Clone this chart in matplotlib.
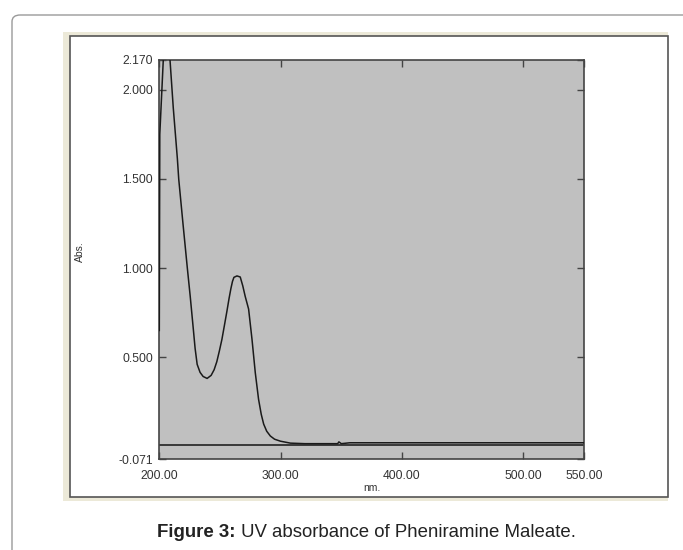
import matplotlib
matplotlib.use("Agg")
import matplotlib.pyplot as plt
from matplotlib.patches import Rectangle, FancyBboxPatch

plt.rcParams['font.family'] = ['Liberation Sans', 'DejaVu Sans']

# ---- data ----
wavelength_nm = [200.0, 200.4, 203.3, 205.0, 207.0, 208.8, 211.5, 214.9, 216.0, 219.5,
                 223.1, 225.5, 228.0, 229.5, 231.2, 233.6, 236.1, 239.4, 242.7, 245.2,
                 247.4, 249.5, 251.6, 253.7, 255.7, 257.5, 259.0, 260.3, 261.5, 264.0,
                 266.7, 268.8, 270.8, 273.6, 276.4, 279.1, 281.8, 284.0, 286.0, 288.5,
                 291.5, 295.0, 299.8, 308.0, 320.0, 347.0, 348.0, 350.0, 357.0, 400.0,
                 500.0, 550.0]
absorbance = [0.65, 1.75, 2.17, 2.40, 2.35, 2.17, 1.90, 1.613, 1.50, 1.25,
              1.00, 0.84, 0.66, 0.55, 0.46, 0.415, 0.392, 0.381, 0.398, 0.43,
              0.475, 0.535, 0.60, 0.68, 0.757, 0.83, 0.885, 0.925, 0.948, 0.956,
              0.95, 0.90, 0.841, 0.77, 0.60, 0.413, 0.264, 0.18, 0.125, 0.085,
              0.058, 0.04, 0.029, 0.018, 0.015, 0.015, 0.025, 0.015, 0.02, 0.02,
              0.02, 0.02]
baseline_value = 0.005

x_ticks = [200, 300, 400, 500, 550]
x_tick_labels = ["200.00", "300.00", "400.00", "500.00", "550.00"]
y_ticks = [-0.071, 0.5, 1.0, 1.5, 2.0, 2.170]
y_tick_labels = ["-0.071", "0.500", "1.000", "1.500", "2.000", "2.170"]
x_label = "nm."
y_label = "Abs."
caption_bold = "Figure 3:"
caption_rest = " UV absorbance of Pheniramine Maleate."

W, H = 683, 550
fig = plt.figure(figsize=(W / 100, H / 100), dpi=100)
fig.patch.set_facecolor("white")


def fx(px):
    return px / W


def fy(py):
    return 1 - py / H


# outer rounded box (open to right/bottom)
outer = FancyBboxPatch((fx(12), fy(700)), fx(800), (700 - 15) / H,
                       boxstyle="round,pad=0,rounding_size=0.012",
                       transform=fig.transFigure, facecolor="none",
                       edgecolor="#9a9a9a", linewidth=1.0, clip_on=False,
                       zorder=-3)
fig.add_artist(outer)

# beige screenshot frame
fig.add_artist(Rectangle((fx(63), fy(501)), fx(668 - 63), (501 - 32) / H,
                         transform=fig.transFigure, facecolor="#ECE9D8",
                         edgecolor="none", zorder=-2))
fig.add_artist(Rectangle((fx(70), fy(497)), fx(668 - 70), (497 - 35.5) / H,
                         transform=fig.transFigure, facecolor="white",
                         edgecolor="#555555", linewidth=1.2, zorder=-1))

# axes
ax_left, ax_right, ax_top, ax_bottom = 159.3, 584.0, 59.5, 459.0
ax = fig.add_axes([fx(ax_left), fy(ax_bottom), fx(ax_right - ax_left),
                   (ax_bottom - ax_top) / H])
ax.set_zorder(2)
ax.set_facecolor("#C0C0C0")
ax.set_xlim(200, 550)
ax.set_ylim(-0.071, 2.170)

ax.axhline(baseline_value, color="#222222", linewidth=1.2, zorder=2)
ax.plot(wavelength_nm, absorbance, color="#1a1a1a", linewidth=1.1, zorder=3,
        solid_joinstyle="round")

ax.set_xticks(x_ticks)
ax.set_xticklabels(x_tick_labels)
ax.set_yticks(y_ticks)
ax.set_yticklabels(y_tick_labels)
ax.tick_params(axis="both", direction="in", length=5, width=1.0, color="#444444",
               labelsize=8.7, labelcolor="#333333", top=True, right=True)
ax.tick_params(axis="x", pad=8)
ax.tick_params(axis="y", pad=4.5)
for s in ax.spines.values():
    s.set_color("#444444")
    s.set_linewidth(1.2)

ax.set_xlabel(x_label, fontsize=7.5, color="#333333")
ax.xaxis.set_label_coords(0.5, -0.0726)
ax.xaxis.label.set_verticalalignment("center")
ax.set_ylabel(y_label, fontsize=7.5, color="#333333")
ax.yaxis.set_label_coords(-0.187, 0.518)
ax.yaxis.label.set_verticalalignment("center")

# caption
t1 = fig.text(fx(157), fy(537), caption_bold, fontsize=13.4, fontweight="bold",
              color="#222222", va="baseline", ha="left")
fig.canvas.draw()
bb = t1.get_window_extent(renderer=fig.canvas.get_renderer())
fig.text(bb.x1 / W, fy(537), caption_rest, fontsize=13.4, color="#222222",
         va="baseline", ha="left")

fig.savefig("out.png", dpi=100, facecolor="white")
